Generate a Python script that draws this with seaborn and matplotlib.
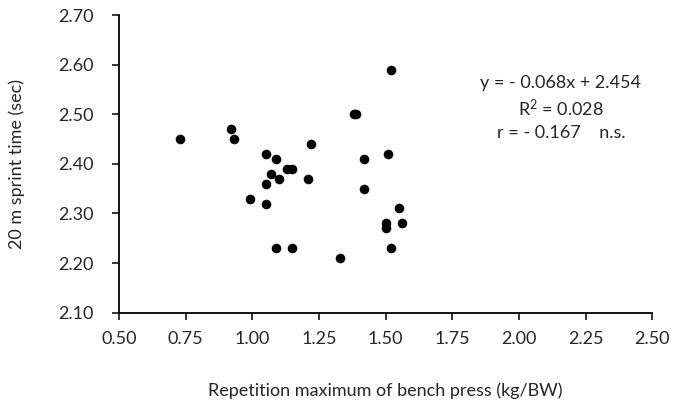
import numpy as np
import pandas as pd
import matplotlib
matplotlib.use("Agg")
import matplotlib.pyplot as plt
import seaborn as sns

# data
bench_press = [0.73, 0.92, 0.93, 1.05, 1.09, 1.07, 1.05, 1.10, 1.13, 1.15,
               1.22, 1.21, 0.99, 1.05, 1.09, 1.15, 1.33, 1.38, 1.39, 1.42,
               1.42, 1.52, 1.51, 1.50, 1.50, 1.52, 1.55, 1.56]
sprint_time = [2.45, 2.47, 2.45, 2.42, 2.41, 2.38, 2.36, 2.37, 2.39, 2.39,
               2.44, 2.37, 2.33, 2.32, 2.23, 2.23, 2.21, 2.50, 2.50, 2.41,
               2.35, 2.59, 2.42, 2.28, 2.27, 2.23, 2.31, 2.28]

x_ticks = [0.50, 0.75, 1.00, 1.25, 1.50, 1.75, 2.00, 2.25, 2.50]
y_ticks = [2.10, 2.20, 2.30, 2.40, 2.50, 2.60, 2.70]

stats_text = "y = - 0.068x + 2.454\nR$^2$ = 0.028\nr = - 0.167    n.s."

df = pd.DataFrame({"bench": bench_press, "sprint": sprint_time})

sns.set_style("ticks")
plt.rcParams['font.family'] = ['Lato', 'DejaVu Sans']
plt.rcParams['mathtext.default'] = 'regular'

fig = plt.figure(figsize=(6.75, 4.09), dpi=100)
ax = fig.add_axes([0.1763, 0.2355, 0.7901, 0.7278])

sns.scatterplot(data=df, x="bench", y="sprint", color="black", s=48,
                edgecolor="black", linewidth=0, ax=ax, zorder=3, clip_on=False)

ax.set_xlim(0.5, 2.5)
ax.set_ylim(2.1, 2.7)
ax.set_xticks(x_ticks)
ax.set_yticks(y_ticks)
ax.set_xticklabels([f"{v:.2f}" for v in x_ticks], fontsize=13)
ax.set_yticklabels([f"{v:.2f}" for v in y_ticks], fontsize=13)
ax.tick_params(direction="out", length=5, width=1.1, color="black")
ax.tick_params(axis="y", pad=13)
ax.tick_params(axis="x", pad=8)

for side in ["top", "right"]:
    ax.spines[side].set_visible(False)
for side in ["left", "bottom"]:
    ax.spines[side].set_linewidth(1.3)
    ax.spines[side].set_color("black")

ax.set_xlabel("Repetition maximum of bench press (kg/BW)", fontsize=13)
ax.set_ylabel("20 m sprint time (sec)", fontsize=13)
ax.xaxis.set_label_coords(0.5, -0.235)
ax.yaxis.set_label_coords(-0.176, 0.5)

ax.text(2.157, 2.579, stats_text, ha="center", va="top", fontsize=13,
        linespacing=1.4)

fig.savefig("out.png", dpi=100)
